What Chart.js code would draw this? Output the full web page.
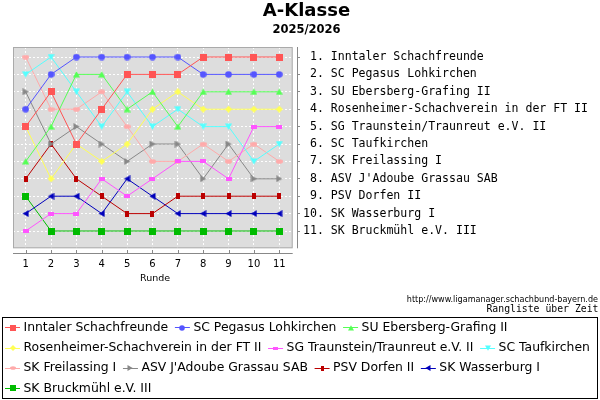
<!DOCTYPE html>
<html><head><meta charset="utf-8">
<script src="https://cdn.jsdelivr.net/npm/chart.js@4.4.1/dist/chart.umd.min.js"></script>
<style>html,body{margin:0;padding:0;background:#fff}</style>
</head><body>
<canvas id="c" width="600" height="400"></canvas>
<script>
// ---- data ----
const rounds = [1,2,3,4,5,6,7,8,9,10,11];
const teams = ['Inntaler Schachfreunde','SC Pegasus Lohkirchen','SU Ebersberg-Grafing II','Rosenheimer-Schachverein in der FT II','SG Traunstein/Traunreut e.V. II','SC Taufkirchen','SK Freilassing I',"ASV J'Adoube Grassau SAB",'PSV Dorfen II','SK Wasserburg I','SK Bruckmühl e.V. III'];
const inntaler    = [5,3,6,4,2,2,2,1,1,1,1];
const pegasus     = [4,2,1,1,1,1,1,2,2,2,2];
const ebersberg   = [7,5,2,2,4,3,5,3,3,3,3];
const rosenheimer = [5,8,6,7,6,4,3,4,4,4,4];
const traunstein  = [11,10,10,8,9,8,7,7,8,5,5];
const taufkirchen = [2,1,3,5,3,5,4,5,5,7,6];
const freilassing = [1,4,4,3,5,7,7,6,7,6,7];
const asv         = [3,6,5,6,7,6,6,8,6,8,8];
const dorfen      = [8,6,8,9,10,10,9,9,9,9,9];
const wasserburg  = [10,9,9,10,8,9,10,10,10,10,10];
const bruckmuehl  = [9,11,11,11,11,11,11,11,11,11,11];
const rankTicks = [1,2,3,4,5,6,7,8,9,10,11];
const rankLabels = [' 1. Inntaler Schachfreunde',' 2. SC Pegasus Lohkirchen',' 3. SU Ebersberg-Grafing II',' 4. Rosenheimer-Schachverein in der FT II',' 5. SG Traunstein/Traunreut e.V. II',' 6. SC Taufkirchen',' 7. SK Freilassing I'," 8. ASV J'Adoube Grassau SAB",' 9. PSV Dorfen II','10. SK Wasserburg I','11. SK Bruckmühl e.V. III'];
const seriesValues = [inntaler,pegasus,ebersberg,rosenheimer,traunstein,taufkirchen,freilassing,asv,dorfen,wasserburg,bruckmuehl];

// ---- styles ----
const colors = ['#ff5555','#5555ff','#55ff55','#ffff55','#ff55ff','#55ffff','#ffaaaa','#888888','#bb0000','#0000bb','#00bb00'];
const shapes = ['square','circle','triUp','diamond','hrect','triDown','ellipse','triRight','vrect','triLeft','square'];

function marker(shape, color, s) {
  s = s || 1;
  const dims = {square:[7,7],circle:[7,7],triUp:[7,7],diamond:[7,7],hrect:[6,4],triDown:[7,7],ellipse:[7,5],triRight:[7,7],vrect:[4,6],triLeft:[7,7]}[shape];
  const w = Math.round(dims[0]*s), h = Math.round(dims[1]*s);
  const c = document.createElement('canvas'); c.width = w; c.height = h;
  const g = c.getContext('2d'); g.fillStyle = color;
  g.beginPath();
  switch (shape) {
    case 'square': case 'hrect': case 'vrect': g.rect(0,0,w,h); break;
    case 'circle': g.arc(w/2,h/2,w/2-0.2,0,Math.PI*2); break;
    case 'ellipse': g.ellipse(w/2,h/2,w/2,h/2-0.2,0,0,Math.PI*2); break;
    case 'triUp': g.moveTo(w/2,0.3); g.lineTo(w,h-0.5); g.lineTo(0,h-0.5); break;
    case 'triDown': g.moveTo(0,0.5); g.lineTo(w,0.5); g.lineTo(w/2,h-0.3); break;
    case 'triRight': g.moveTo(0.5,0); g.lineTo(w-0.3,h/2); g.lineTo(0.5,h); break;
    case 'triLeft': g.moveTo(w-0.5,0); g.lineTo(w-0.5,h); g.lineTo(0.3,h/2); break;
    case 'diamond': g.moveTo(w/2,0); g.lineTo(w,h/2); g.lineTo(w/2,h); g.lineTo(0,h/2); break;
  }
  g.closePath(); g.fill();
  return c;
}
const plotMarkers = shapes.map((s,i)=>marker(s,colors[i],1));
const legendMarkers = shapes.map((s,i)=>marker(s,colors[i],0.8));

const datasets = teams.map((t,i)=>({
  label: t,
  data: rounds.map((r,k)=>({x:r, y:seriesValues[i][k]})),
  borderColor: colors[i], backgroundColor: colors[i],
  borderWidth: 1, tension: 0, fill: false,
  pointStyle: plotMarkers[i], pointRadius: 3, pointHoverRadius: 3
}));

const PLOT = {bgRight: 292.7, bgBottom: 248.3};

const decor = {
  id: 'decor',
  beforeDraw(chart) {
    const ctx = chart.ctx, a = chart.chartArea;
    ctx.save();
    ctx.fillStyle = '#dddddd';
    ctx.fillRect(a.left, a.top, PLOT.bgRight - a.left, PLOT.bgBottom - a.top);
    ctx.restore();
  },
  beforeDatasetsDraw(chart) {
    const ctx = chart.ctx, a = chart.chartArea;
    ctx.save();
    ctx.fillStyle = '#ffffff';
    ctx.fillRect(PLOT.bgRight, a.top - 1, a.right - PLOT.bgRight, a.bottom - a.top + 2);
    ctx.fillRect(a.left - 1, PLOT.bgBottom, a.right - a.left + 1, a.bottom - PLOT.bgBottom);
    ctx.strokeStyle = '#aaaaaa'; ctx.lineWidth = 1;
    ctx.strokeRect(a.left + 0.5, a.top + 0.5, PLOT.bgRight - a.left - 1, PLOT.bgBottom - a.top - 1);
    ctx.strokeStyle = '#888888';
    ctx.beginPath();
    ctx.moveTo(a.left, a.bottom + 0.5); ctx.lineTo(PLOT.bgRight, a.bottom + 0.5);
    ctx.moveTo(a.right + 0.5, a.top); ctx.lineTo(a.right + 0.5, PLOT.bgBottom);
    const xs = chart.scales.x;
    rounds.forEach(r => { const px = Math.round(xs.getPixelForValue(r)) + 0.5; ctx.moveTo(px, a.bottom); ctx.lineTo(px, a.bottom - 3); });
    ctx.stroke();
    ctx.restore();
  },
  afterDraw(chart) {
    const ctx = chart.ctx;
    ctx.save();
    ctx.fillStyle = '#000';
    ctx.textAlign = 'right'; ctx.textBaseline = 'middle';
    const url = 'http://www.ligamanager.schachbund-bayern.de';
    ctx.font = '10px "DejaVu Sans"';
    const w10 = ctx.measureText(url).width;
    ctx.font = (10 * 191.5 / w10).toFixed(2) + 'px "DejaVu Sans"';
    ctx.fillText(url, 598, 299.5);
    ctx.font = '9.8px "DejaVu Sans Mono"';
    ctx.fillText('Rangliste über Zeit', 598.5, 309.5);
    ctx.strokeStyle = '#000'; ctx.lineWidth = 1;
    ctx.strokeRect(2.5, 317.5, 595, 81);
    ctx.font = '12.4px "DejaVu Sans"';
    ctx.textAlign = 'left';
    let x = 5, row = 0;
    chart.data.datasets.forEach((ds, i) => {
      const tw = ctx.measureText(ds.label).width;
      if (x > 5 && x + 18.5 + tw > 596) { row++; x = 5; }
      const y = 327.3 + row * 20.2;
      ctx.strokeStyle = ds.borderColor;
      ctx.beginPath(); ctx.moveTo(x, Math.round(y) + 0.5); ctx.lineTo(x + 15, Math.round(y) + 0.5); ctx.stroke();
      const m = legendMarkers[i];
      ctx.drawImage(m, Math.round(x + 7.5 - m.width / 2), Math.round(y + 0.5 - m.height / 2));
      ctx.fillStyle = '#000';
      ctx.fillText(ds.label, x + 18.5, y + 0.5);
      x += 18.5 + tw + 6.7;
    });
    ctx.restore();
  }
};

Chart.defaults.font.family = '"DejaVu Sans"';
Chart.defaults.color = '#000';

new Chart(document.getElementById('c'), {
  type: 'line',
  data: { datasets },
  options: {
    responsive: false, animation: false, devicePixelRatio: 1,
    layout: { padding: { left: 13, top: 0, right: 0, bottom: 116.5 } },
    plugins: {
      legend: { display: false },
      tooltip: { enabled: false },
      title: { display: true, text: 'A-Klasse', color: '#000', font: { size: 18, weight: 'bold', lineHeight: 1.2 }, padding: { top: 1, bottom: 0 } },
      subtitle: { display: true, text: '2025/2026', color: '#000', font: { size: 11.5, weight: 'bold', lineHeight: 1.2 }, padding: { top: 1, bottom: 9.6 } }
    },
    scales: {
      x: {
        type: 'linear', position: 'bottom', min: 0.5, max: 11.7,
        afterBuildTicks: s => { s.ticks = rounds.map(v => ({ value: v })); },
        ticks: { autoSkip: false, maxRotation: 0, padding: 6, font: { size: 10, lineHeight: 1 }, color: '#000', callback: v => String(v) },
        grid: { color: '#ffffff', lineWidth: 1, drawTicks: false },
        border: { display: false, dash: [2, 2] },
        title: { display: true, text: 'Runde', color: '#000', font: { size: 9.5, lineHeight: 1 }, padding: { top: -1, bottom: 0 } }
      },
      y: {
        type: 'linear', position: 'right', reverse: true, min: 0.425, max: 12.264,
        afterBuildTicks: s => { s.ticks = rankTicks.map(v => ({ value: v })); },
        afterFit: s => { s.width = 303; },
        ticks: { autoSkip: false, padding: 3, color: '#000', font: { family: '"DejaVu Sans Mono"', size: 11.55 }, callback: v => rankLabels[rankTicks.indexOf(v)] },
        grid: { color: '#ffffff', lineWidth: 1, drawTicks: true, tickLength: 3, tickColor: '#888888', tickWidth: 1 },
        border: { display: false, dash: [2, 2] }
      }
    }
  },
  plugins: [decor]
});
</script>
</body></html>
